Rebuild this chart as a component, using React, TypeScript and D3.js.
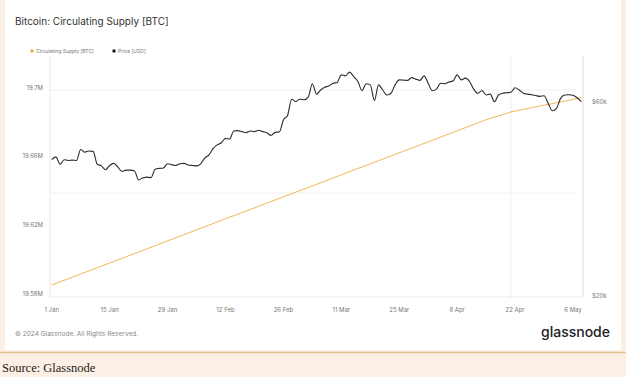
import React from "react";
import * as d3 from "d3";

const supplyDates = ["2024-01-01","2024-01-08","2024-01-15","2024-01-22","2024-01-29","2024-02-05","2024-02-12","2024-02-19","2024-02-26","2024-03-04","2024-03-11","2024-03-18","2024-03-25","2024-04-01","2024-04-08","2024-04-15","2024-04-21","2024-04-27","2024-05-04","2024-05-08"];
const supplyValues = [19.5864,19.5928,19.5992,19.6056,19.6121,19.6185,19.6250,19.6313,19.6378,19.6441,19.6506,19.6570,19.6634,19.6698,19.6762,19.6827,19.6872,19.6902,19.6935,19.6956];

const priceDates = [
"2024-01-01","2024-01-02","2024-01-03","2024-01-04","2024-01-05","2024-01-06","2024-01-07","2024-01-08","2024-01-09","2024-01-10",
"2024-01-11","2024-01-12","2024-01-13","2024-01-14","2024-01-15","2024-01-16","2024-01-17","2024-01-18","2024-01-19","2024-01-20",
"2024-01-21","2024-01-22","2024-01-23","2024-01-24","2024-01-25","2024-01-26","2024-01-27","2024-01-28","2024-01-29","2024-01-30",
"2024-01-31","2024-02-01","2024-02-02","2024-02-03","2024-02-04","2024-02-05","2024-02-06","2024-02-07","2024-02-08","2024-02-09",
"2024-02-10","2024-02-11","2024-02-12","2024-02-13","2024-02-14","2024-02-15","2024-02-16","2024-02-17","2024-02-18","2024-02-19",
"2024-02-20","2024-02-21","2024-02-22","2024-02-23","2024-02-24","2024-02-25","2024-02-26","2024-02-27","2024-02-28","2024-02-29",
"2024-03-01","2024-03-02","2024-03-03","2024-03-04","2024-03-05","2024-03-06","2024-03-07","2024-03-08","2024-03-09","2024-03-10",
"2024-03-11","2024-03-12","2024-03-13","2024-03-14","2024-03-15","2024-03-16","2024-03-17","2024-03-18","2024-03-19","2024-03-20",
"2024-03-21","2024-03-22","2024-03-23","2024-03-24","2024-03-25","2024-03-26","2024-03-27","2024-03-28","2024-03-29","2024-03-30",
"2024-03-31","2024-04-01","2024-04-02","2024-04-03","2024-04-04","2024-04-05","2024-04-06","2024-04-07","2024-04-08","2024-04-09",
"2024-04-10","2024-04-11","2024-04-12","2024-04-13","2024-04-14","2024-04-15","2024-04-16","2024-04-17","2024-04-18","2024-04-19",
"2024-04-20","2024-04-21","2024-04-22","2024-04-23","2024-04-24","2024-04-25","2024-04-26","2024-04-27","2024-04-28","2024-04-29",
"2024-04-30","2024-05-01","2024-05-02","2024-05-03","2024-05-04","2024-05-05","2024-05-06","2024-05-07","2024-05-08"];
const priceValues = [
43.4,44.1,42.3,43.4,43.2,43.3,43.2,46.0,45.3,45.6,
45.5,42.3,41.9,41.0,42.0,42.5,41.6,40.6,40.9,40.9,
40.7,38.7,39.1,39.3,39.2,41.1,41.3,41.4,42.4,42.2,
42.0,42.4,42.5,42.1,42.0,41.9,42.4,43.8,44.6,46.2,
47.2,47.8,49.0,48.8,51.1,51.2,50.9,50.6,51.1,50.9,
51.3,50.9,50.6,49.8,50.7,50.8,54.4,55.8,61.2,60.4,
61.2,61.0,61.9,66.8,63.0,64.5,65.5,66.0,67.0,67.3,
70.3,69.9,71.4,69.6,67.7,64.3,66.8,66.4,60.8,66.4,
64.5,62.7,63.3,66.4,68.3,68.2,68.1,69.2,68.6,68.1,
69.9,67.0,64.2,64.8,67.0,66.8,67.5,67.9,70.3,68.3,
69.0,67.7,64.8,63.3,64.3,62.7,63.0,60.3,62.7,63.3,
63.5,63.7,65.3,64.5,63.3,63.0,62.8,62.5,62.2,62.4,
59.8,57.3,58.1,61.5,62.7,62.8,62.6,61.7,60.4];

const xTickDates = ["2024-01-01","2024-01-15","2024-01-29","2024-02-12","2024-02-26","2024-03-11","2024-03-25","2024-04-08","2024-04-22","2024-05-06"];
const leftTicks = [19.58, 19.62, 19.66, 19.7];
const leftTickLabels = ["19.58M", "19.62M", "19.66M", "19.7M"];
const gridValues = [19.64, 19.7];
const rightTicks = [20, 60];
const rightTickLabels = ["$20k", "$60k"];
const halvingDate = "2024-04-21";

const parse = (s: string) => new Date(s + "T00:00:00Z");

export default function App() {
  const W = 626, H = 377;
  const plotL = 50, plotR = 583, plotT = 56, plotB = 297;
  const x = d3.scaleUtc()
    .domain([new Date(Date.UTC(2023, 11, 31, 14)), new Date(Date.UTC(2024, 4, 8, 10))])
    .range([plotL, plotR]);
  const yL = d3.scaleLinear().domain([19.58, 19.7]).range([296, 90]);
  const yR = d3.scaleLog().domain([20, 60]).range([296, 102.7]);

  const supply = supplyDates.map((d, i) => ({ d: parse(d), v: supplyValues[i] }));
  const price = priceDates.map((d, i) => ({ d: parse(d), v: priceValues[i] }));
  const supplyLine = d3.line<{ d: Date; v: number }>().x(p => x(p.d)).y(p => yL(p.v));
  const priceLine = d3.line<{ d: Date; v: number }>().x(p => x(p.d)).y(p => yR(p.v)).curve(d3.curveMonotoneX);
  const fmt = d3.utcFormat("%-d %b");
  const sans = "Inter, 'Open Sans', sans-serif";
  const hx = x(parse(halvingDate));

  return (
    <svg width={W} height={H} style={{ position: "absolute", left: 0, top: 0 }} fontFamily={sans}>
      <rect x={0} y={0} width={W} height={H} fill="#fcefe5" />
      <rect x={5} y={0} width={616} height={350} fill="#ffffff" />
      <line x1={0} x2={W} y1={352.5} y2={352.5} stroke="#e6bf8f" strokeWidth={1.5} />
      <text x={15} y={25} fontSize={10} fill="#333">Bitcoin: Circulating Supply [BTC]</text>

      <circle cx={32} cy={51} r={1.8} fill="#f0ad45" />
      <text x={36} y={52.8} fontSize={5} fill="#777">Circulating Supply [BTC]</text>
      <circle cx={114} cy={51} r={1.8} fill="#222" />
      <text x={118} y={52.8} fontSize={5} fill="#777">Price [USD]</text>

      {gridValues.map(g => (
        <line key={g} x1={plotL} x2={576} y1={yL(g)} y2={yL(g)} stroke="#ededed" strokeWidth={0.8} />
      ))}
      <line x1={plotL} x2={plotL} y1={plotT} y2={plotB} stroke="#efe6da" strokeWidth={1} />
      <line x1={plotL} x2={plotR} y1={plotB} y2={plotB} stroke="#e8e8e8" strokeWidth={0.8} />
      <line x1={plotR} x2={plotR} y1={plotT} y2={plotB} stroke="#cfcfcf" strokeWidth={0.8} />
      <line x1={hx} x2={hx} y1={plotT} y2={plotB} stroke="#c8c8c8" strokeWidth={0.7} strokeDasharray="1,1.5" />

      {leftTicks.map((t, i) => (
        <text key={t} x={43} y={yL(t) - 0.2} fontSize={6} fill="#777" textAnchor="end">{leftTickLabels[i]}</text>
      ))}
      {rightTicks.map((t, i) => (
        <text key={t} x={592} y={yR(t) + 1.5} fontSize={6} fill="#777">{rightTickLabels[i]}</text>
      ))}
      {xTickDates.map(d => (
        <text key={d} x={x(parse(d))} y={312} fontSize={6} fill="#777" textAnchor="middle">{fmt(parse(d))}</text>
      ))}

      <path d={supplyLine(supply) || ""} fill="none" stroke="#f0ad45" strokeWidth={0.9} />
      <path d={priceLine(price) || ""} fill="none" stroke="#2b2b2b" strokeWidth={1.1} />

      <text x={15} y={336} fontSize={6.5} fill="#888">© 2024 Glassnode. All Rights Reserved.</text>
      <text x={610} y={337} fontSize={14} fill="#222" textAnchor="end" fontWeight={500}>glassnode</text>
      <text x={2} y={372} fontSize={12.5} fill="#222" fontFamily="'Liberation Serif', serif">Source: Glassnode</text>
    </svg>
  );
}
